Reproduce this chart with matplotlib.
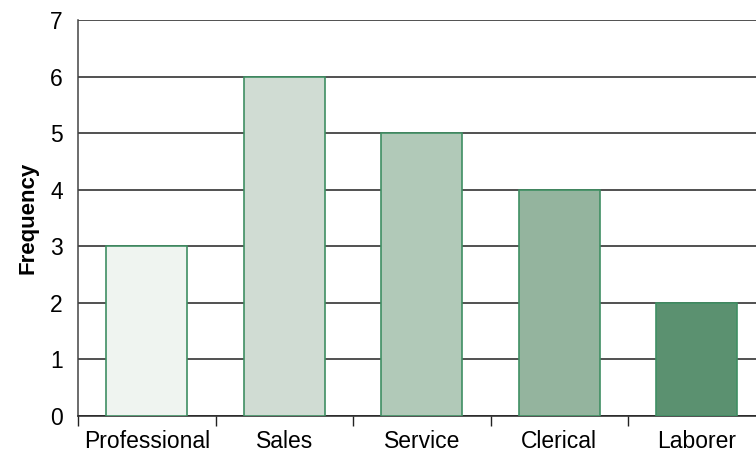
import matplotlib.pyplot as plt

categories = ['Professional', 'Sales', 'Service', 'Clerical', 'Laborer']
frequency = [3, 6, 5, 4, 2]
bar_colors = ['#eff4f0', '#d0dcd3', '#b1c9b8', '#94b49e', '#5b9170']

plt.rcParams['font.family'] = ['Liberation Sans', 'DejaVu Sans']

fig = plt.figure(figsize=(7.56, 4.53), dpi=100)
ax = fig.add_axes([78 / 756, 37 / 453, 687.5 / 756, 396 / 453])

x = range(len(categories))
ax.bar(x, frequency, width=0.59, color=bar_colors, edgecolor='#3f8f63',
       linewidth=1.2, zorder=3)

ax.set_xlim(-0.5, len(categories) - 0.5)
ax.set_ylim(0, 7)
ax.set_yticks(range(8))
ax.yaxis.grid(True, color='#222222', linewidth=1.1, zorder=0)
ax.set_axisbelow(True)

# category labels centered under bars, ticks on the boundaries
ax.set_xticks(list(x))
ax.set_xticklabels(categories, fontsize=16.5)
ax.tick_params(axis='x', length=0, pad=10)
ax.set_xticks([i + 0.5 for i in range(len(categories) - 1)] + [-0.5], minor=True)
ax.tick_params(axis='x', which='minor', length=7, width=1, color='#222222')
ax.tick_params(axis='y', length=0, labelsize=16.5, pad=11)

for side in ['top', 'right']:
    ax.spines[side].set_visible(False)
ax.spines['left'].set_color('#444444')
ax.spines['bottom'].set_color('#222222')
ax.spines['left'].set_linewidth(1.1)
ax.spines['bottom'].set_linewidth(1.1)

ax.set_ylabel('Frequency', fontsize=16, fontweight='bold', labelpad=8)

fig.savefig('out.png', dpi=100)
